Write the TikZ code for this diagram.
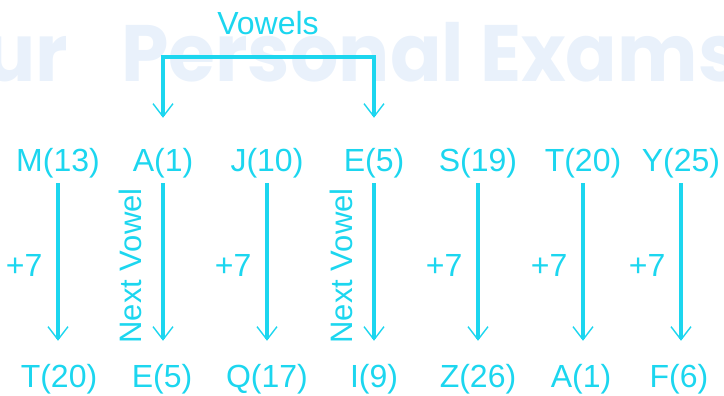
\documentclass[tikz,border=0pt]{standalone}
\usepackage{fontspec}
\setmainfont{Liberation Sans}
\newfontfamily\wmfont{Poppins}
\usepackage{tikz}
\usetikzlibrary{arrows.meta}
\definecolor{aqua}{HTML}{1CD6EF}
\definecolor{wmblue}{HTML}{E9F1FB}
\tikzset{
  >={Straight Barb[length=13pt,width=20pt,line width=1.4pt]},
  every node/.style={text=aqua},
  letter/.style={font=\fontsize{32}{38}\selectfont,inner sep=0pt,text height=24pt,text depth=7pt,anchor=base},
  steplabel/.style={font=\fontsize{32}{38}\selectfont,inner sep=0pt},
  turnlabel/.style={font=\fontsize{31}{38}\selectfont,inner sep=0pt},
  wmark/.style={font=\wmfont\bfseries\fontsize{80}{90}\selectfont,text=wmblue,inner sep=0pt,xscale=0.95},
  arrow/.style={->,line width=3.2pt,draw=aqua,shorten <=4pt,shorten >=23pt},
  bracket/.style={<->,line width=3.2pt,draw=aqua,shorten <=30pt,shorten >=30pt}
}
\begin{document}
\begin{tikzpicture}[x=1pt,y=1pt]
  \useasboundingbox (0,0) rectangle (724,396);
  % watermark behind everything
  \begin{scope}
    \clip (0,0) rectangle (724,396);
    \node[wmark,anchor=base east] (wml) at (68,314) {Your};
    \node[wmark,anchor=base west] (wmr) at (121,314) {Personal Exams};
  \end{scope}

  \node[letter] (t1) at (58,224) {M(13)};
  \node[letter] (t2) at (163,224) {A(1)};
  \node[letter] (t3) at (267,224) {J(10)};
  \node[letter] (t4) at (374,224) {E(5)};
  \node[letter] (t5) at (478,224) {S(19)};
  \node[letter] (t6) at (583,224) {T(20)};
  \node[letter] (t7) at (681,224) {Y(25)};

  \node[letter] (b1) at (59,8) {T(20)};
  \node[letter] (b2) at (162,8) {E(5)};
  \node[letter] (b3) at (267,8) {Q(17)};
  \node[letter] (b4) at (374,8) {I(9)};
  \node[letter] (b5) at (478,8) {Z(26)};
  \node[letter] (b6) at (581,8) {A(1)};
  \node[letter] (b7) at (679,8) {F(6)};

  \node[letter] (vow) at (268,361) {Vowels};
  \coordinate (vtop) at (268,339);
  \draw[bracket] (t2.north) |- (vtop) -| (t4.north);

  \draw[arrow] (t1.south) -- (t1.south |- b1.north) node[pos=0.47,left=14pt,steplabel]{+7};
  \draw[arrow] (t2.south) -- (t2.south |- b2.north) node[pos=0.47,xshift=-33pt,rotate=90,turnlabel]{Next Vowel};
  \draw[arrow] (t3.south) -- (t3.south |- b3.north) node[pos=0.47,left=14pt,steplabel]{+7};
  \draw[arrow] (t4.south) -- (t4.south |- b4.north) node[pos=0.47,xshift=-33pt,rotate=90,turnlabel]{Next Vowel};
  \draw[arrow] (t5.south) -- (t5.south |- b5.north) node[pos=0.47,left=14pt,steplabel]{+7};
  \draw[arrow] (t6.south) -- (t6.south |- b6.north) node[pos=0.47,left=14pt,steplabel]{+7};
  \draw[arrow] (t7.south) -- (t7.south |- b7.north) node[pos=0.47,left=14pt,steplabel]{+7};
\end{tikzpicture}
\end{document}
